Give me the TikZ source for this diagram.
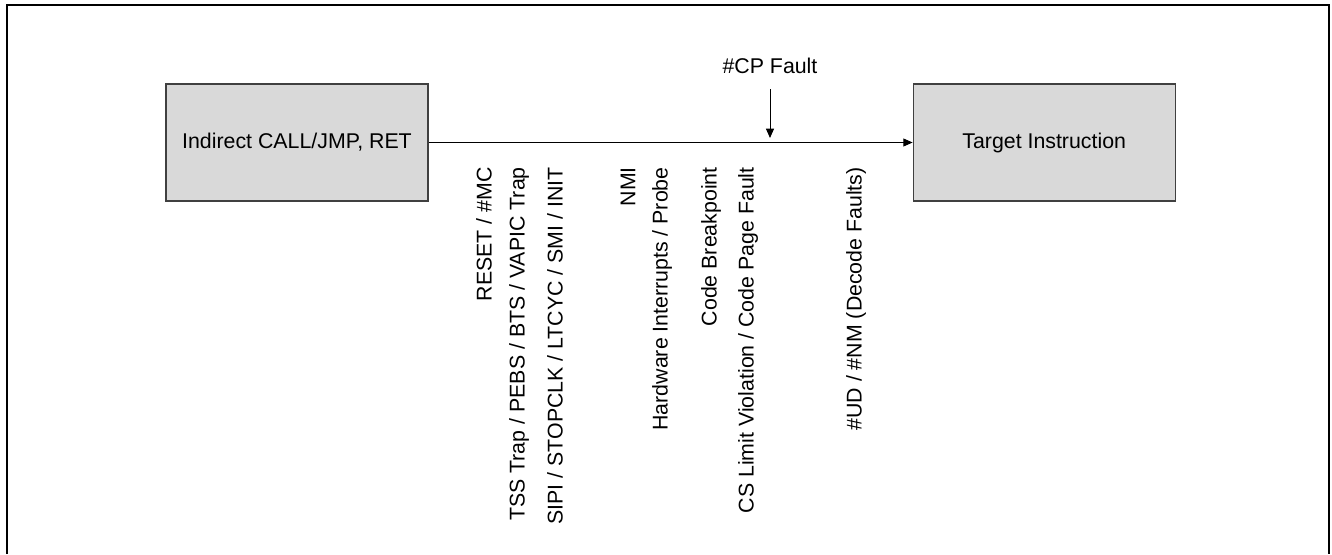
\documentclass[tikz,border=0pt]{standalone}
\usepackage{fontspec}
\setmainfont{Liberation Sans}
\usetikzlibrary{arrows.meta,positioning}
\definecolor{boxgray}{RGB}{217,217,217}
\definecolor{edgegray}{RGB}{64,64,64}

\begin{document}
\begin{tikzpicture}[x=0.75pt, y=-0.75pt, >={Triangle[length=7pt,width=6pt]}, font=\fontsize{16}{19}\selectfont, box/.style={draw=edgegray, fill=boxgray, line width=0.9pt, align=center, minimum width=196.5pt, minimum height=87.75pt}, evt/.style={rotate=90, anchor=east, inner sep=0pt}]
\useasboundingbox (0,0) rectangle (1332,554);
\draw[line width=1.5pt] (6.5,554) -- (6.5,5) -- (1329,5) -- (1329,554);
\node[box] (src) at (297,142.5) {Indirect CALL/JMP, RET};
\node[box, right=363pt of src] (tgt) {Target Instruction};
\draw[->, line width=0.75pt] (src) -- (tgt);
\node (cp) at (770,66) {\#CP Fault};
\coordinate (cphit) at (770,138);
\draw[->, line width=0.75pt, shorten <=8pt] (cp) -- (cphit);
\node[evt] (reset) at (484,167) {RESET / \#MC};
\node[evt] (tss) at (519,167) {TSS Trap / PEBS / BTS / VAPIC Trap};
\node[evt] (sipi) at (555,167) {SIPI / STOPCLK / LTCYC / SMI / INIT};
\node[evt] (nmi) at (628,167) {NMI};
\node[evt] (hwint) at (662,167) {Hardware Interrupts / Probe};
\node[evt] (codebp) at (711,167) {Code Breakpoint};
\node[evt] (cslim) at (748,167) {CS Limit Violation / Code Page Fault};
\node[evt] (decode) at (856,167) {\#UD / \#NM (Decode Faults)};
\end{tikzpicture}
\end{document}
